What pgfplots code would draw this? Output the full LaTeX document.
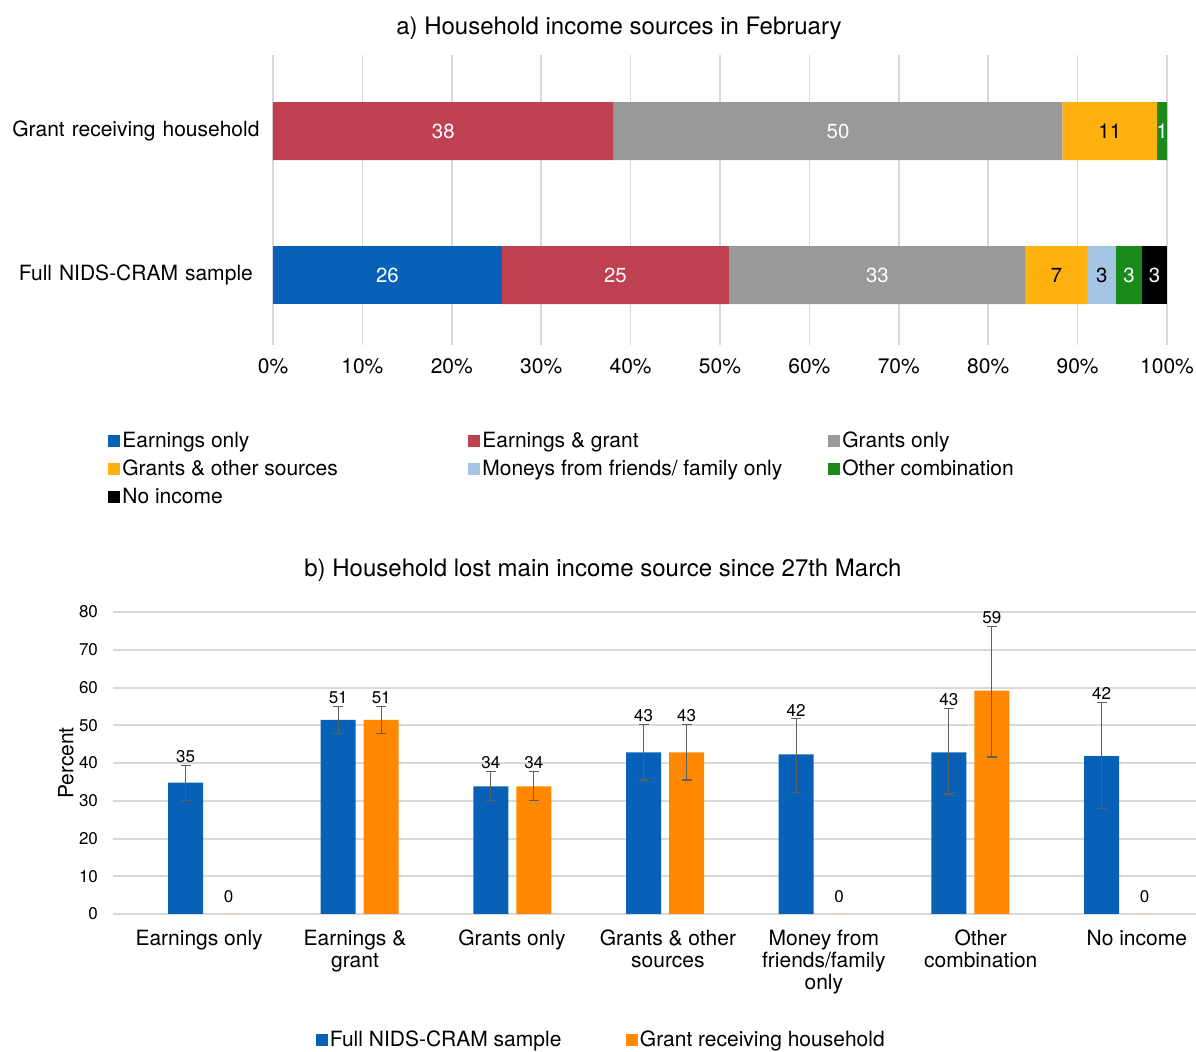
\documentclass[border=0pt]{standalone}
\usepackage{fontspec}
\setmainfont{TeX Gyre Heros}
\usepackage{pgfplots}
\pgfplotsset{compat=1.18}
\usepackage{pgfplotstable}

\definecolor{cBlue}{HTML}{0761B6}
\definecolor{cRed}{HTML}{BF4050}
\definecolor{cGray}{HTML}{999999}
\definecolor{cYel}{HTML}{FFB10F}
\definecolor{cLight}{HTML}{A4C6E4}
\definecolor{cGreen}{HTML}{1A8A1A}
\definecolor{cOrange}{HTML}{FF8800}
\definecolor{gridGray}{HTML}{D9D9D9}
\definecolor{errGray}{HTML}{5F5F5F}

% b) lost main income source: value, error plus, error minus
\pgfplotstableread{
x y ep em
0 34.8 4.6 4.7
1 51.4 3.6 3.5
2 33.8 4.0 3.7
3 42.8 7.4 7.3
4 42.3 9.5 10.1
5 42.8 11.7 11.0
6 41.8 14.3 13.9
}\lostfull
\pgfplotstableread{
x y ep em
1 51.4 3.6 3.5
2 33.8 4.0 3.7
3 42.8 7.4 7.3
5 59.2 17.0 17.6
}\lostgrant
\pgfplotstableread{
x y ep
0 0 2.4
4 0 2.4
6 0 2.4
}\lostzero

\pgfplotsset{
  shareaxis/.style={
    at={(136.5pt,-172.5pt)}, anchor=south west,
    scale only axis, width=447pt, height=145pt,
    xmin=0, xmax=100, ymin=-0.486, ymax=1.528,
  },
}

\begin{document}
\begin{tikzpicture}[font=\fontsize{10.5}{11}\selectfont]
\useasboundingbox (0,0) rectangle (598pt,-526pt);

% ---------- a) stacked shares ----------
\begin{axis}[
  shareaxis,
  xbar stacked, bar width=29pt,
  xtick={0,10,...,100},
  /pgf/number format/assume math mode=true,
  xticklabel={\pgfmathprintnumber{\tick}\%},
  xticklabel style={yshift=-3.5pt},
  ytick={0,1},
  yticklabels={Full NIDS-CRAM sample, Grant receiving household},
  yticklabel style={text width=124pt, align=center, xshift=-3pt},
  major tick length=0pt,
  axis line style={draw=none},
  xmajorgrids, grid style={gridGray, line width=0.75pt},
  title={a) Household income sources in February},
  title style={at={(axis description cs:0.387,1.051)}, anchor=center,
    font=\fontsize{12}{13}\selectfont},
  legend columns=3,
  legend image code/.code={\fill[#1] (0pt,-3pt) rectangle (6pt,3pt);},
  legend style={at={(axis description cs:-0.1846,-0.4276)}, anchor=west,
    draw=none, fill=none, inner sep=0pt, row sep=2.75pt,
    nodes={inner sep=1pt}},
]
\addplot[fill=cBlue, draw=none] coordinates {(25.6,0) (0,1)};
\addlegendentry{\makebox[172pt][l]{Earnings only}}
\addplot[fill=cRed, draw=none] coordinates {(25.4,0) (38.1,1)};
\addlegendentry{\makebox[172pt][l]{Earnings \& grant}}
\addplot[fill=cGray, draw=none] coordinates {(33.2,0) (50.2,1)};
\addlegendentry{\makebox[172pt][l]{Grants only}}
\addplot[fill=cYel, draw=none] coordinates {(6.9,0) (10.6,1)};
\addlegendentry{\makebox[172pt][l]{Grants \& other sources}}
\addplot[fill=cLight, draw=none] coordinates {(3.2,0) (0,1)};
\addlegendentry{\makebox[172pt][l]{Moneys from friends/ family only}}
\addplot[fill=cGreen, draw=none] coordinates {(2.9,0) (1.1,1)};
\addlegendentry{\makebox[172pt][l]{Other combination}}
\addplot[fill=black, draw=none] coordinates {(2.8,0) (0,1)};
\addlegendentry{\makebox[172pt][l]{No income}}
\end{axis}

% labels at the middle of each segment
\begin{axis}[
  shareaxis, hide axis, clip=false,
  point meta=explicit symbolic,
  nodes near coords,
  every node near coord/.append style={anchor=center, inner sep=0pt,
    font=\fontsize{10.2}{11}\selectfont},
]
\addplot[draw=none, no marks, every node near coord/.append style={text=white}]
  coordinates {(12.8,0) [26] (38.3,0) [25] (67.6,0) [33] (95.75,0) [3] (98.6,0) [3]
               (19.05,1) [38] (63.2,1) [50] (99.45,1) [1]};
\addplot[draw=none, no marks, every node near coord/.append style={text=black}]
  coordinates {(87.65,0) [7] (92.7,0) [3] (93.6,1) [11]};
\end{axis}

% ---------- b) lost main income source ----------
\begin{axis}[
  at={(56.5pt,-457pt)}, anchor=south west,
  scale only axis, width=541.5pt, height=151pt,
  ybar=4pt, bar width=17.5pt,
  xmin=-0.616, xmax=6.478, ymin=0, ymax=80,
  xtick={-0.052,0.969,1.997,3.019,4.040,5.068,6.090},
  xticklabels={Earnings only, {Earnings \&\\grant}, Grants only,
    {Grants \& other\\sources}, {Money from\\friends/family\\only},
    {Other\\combination}, No income},
  xticklabel style={align=center, yshift=-4.5pt},
  ytick={0,10,...,80},
  /pgf/number format/assume math mode=true,
  yticklabel style={xshift=-4pt, font=\fontsize{8.5}{9}\selectfont},
  ymajorgrids, grid style={gridGray, line width=1pt},
  axis line style={draw=none}, major tick length=0pt,
  ylabel={Percent},
  ylabel style={at={(axis description cs:-0.0434,0.5)}, anchor=center},
  title={b) Household lost main income source since 27th March},
  title style={at={(axis description cs:0.4524,1.099)}, anchor=center,
    font=\fontsize{12}{13}\selectfont},
  point meta=y,
  nodes near coords={\pgfmathprintnumber[fixed,precision=0]{\pgfplotspointmeta}},
  visualization depends on={\thisrow{ep} \as \ep},
  every node near coord/.append style={anchor=south, inner sep=1pt,
    font=\fontsize{8.5}{9}\selectfont, text=black,
    shift={(axis direction cs:0,\ep)}},
  legend columns=2,
  legend image code/.code={\fill[#1] (0pt,-3pt) rectangle (6pt,3pt);},
  legend style={at={(axis description cs:0.187,-0.417)}, anchor=west,
    draw=none, fill=none, inner sep=0pt, nodes={inner sep=1pt}},
]
\addplot[fill=cBlue, draw=none, bar shift=-10.75pt,
  error bars/.cd, y dir=both, y explicit,
  error bar style={errGray, line width=0.6pt},
  error mark options={errGray, line width=0.6pt, mark size=2.5pt, rotate=90}]
  table[x=x, y=y, y error plus=ep, y error minus=em] {\lostfull};
\addlegendentry{\makebox[147pt][l]{Full NIDS-CRAM sample}}
\addplot[fill=cOrange, draw=none, bar shift=10.75pt,
  error bars/.cd, y dir=both, y explicit,
  error bar style={errGray, line width=0.6pt},
  error mark options={errGray, line width=0.6pt, mark size=2.5pt, rotate=90}]
  table[x=x, y=y, y error plus=ep, y error minus=em] {\lostgrant};
\addlegendentry{Grant receiving household}
\addplot[fill=cOrange, draw=none, bar shift=10.75pt, forget plot]
  table[x=x, y=y] {\lostzero};
\end{axis}
\end{tikzpicture}
\end{document}
